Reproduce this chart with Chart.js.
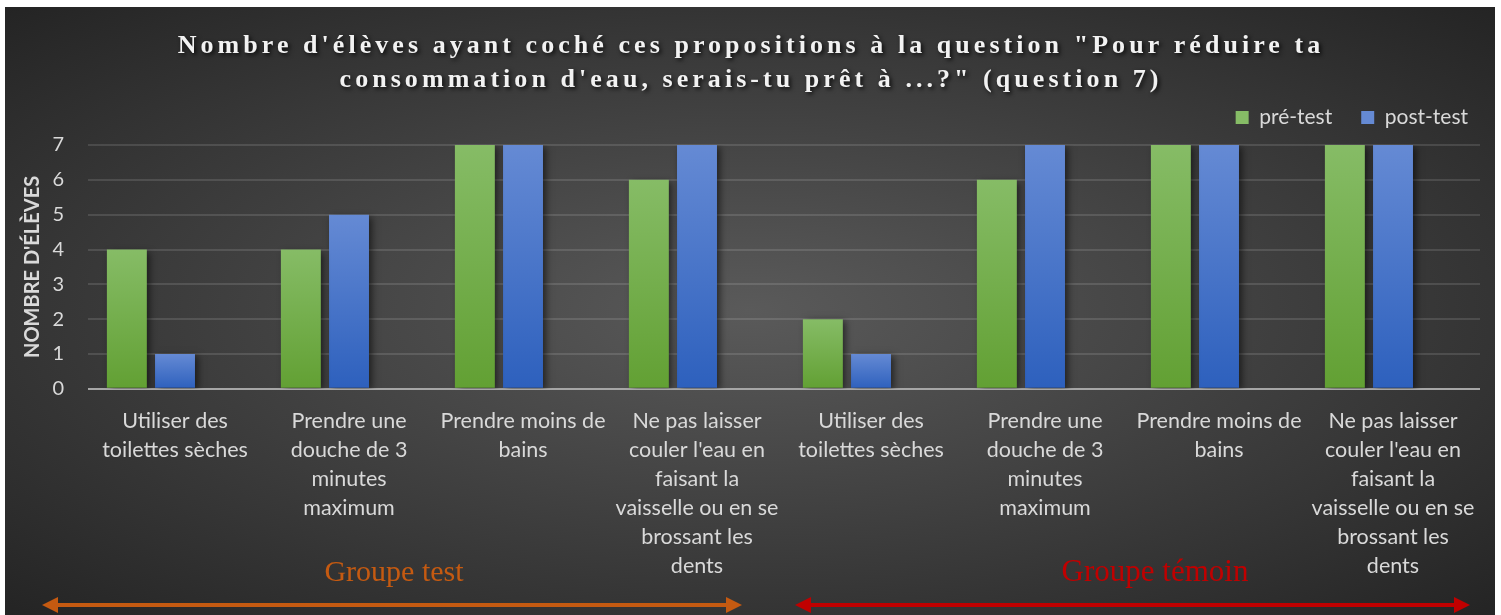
<!DOCTYPE html>
<html>
<head>
<meta charset="utf-8">
<script src="https://cdn.jsdelivr.net/npm/chart.js@4.4.1/dist/chart.umd.min.js"></script>
<style>
  html, body { margin: 0; padding: 0; background: #fff; }
  #wrap {
    position: absolute; left: 5px; top: 7px; width: 1490px; height: 608px;
    background: radial-gradient(ellipse farthest-corner at 50% 50%, #5a5a5a 0%, #242424 100%);
  }
</style>
</head>
<body>
<div id="wrap"><canvas id="chart" width="1490" height="608"></canvas></div>
<script>
const categories = [
    ['Utiliser des', 'toilettes sèches'],
    ['Prendre une', 'douche de 3', 'minutes', 'maximum'],
    ['Prendre moins de', 'bains'],
    ['Ne pas laisser', "couler l'eau en", 'faisant la', 'vaisselle ou en se', 'brossant les', 'dents'],
    ['Utiliser des', 'toilettes sèches'],
    ['Prendre une', 'douche de 3', 'minutes', 'maximum'],
    ['Prendre moins de', 'bains'],
    ['Ne pas laisser', "couler l'eau en", 'faisant la', 'vaisselle ou en se', 'brossant les', 'dents']
];
const preTest = [4, 4, 7, 6, 2, 6, 7, 7];
const postTest = [1, 5, 7, 7, 1, 7, 7, 7];
const emptySeries = [null, null, null, null, null, null, null, null];
const yTicks = [0, 1, 2, 3, 4, 5, 6, 7];
const titleLines = [
    "Nombre d'élèves ayant coché ces propositions à la question \"Pour réduire ta",
    "consommation d'eau, serais-tu prêt à ...?\" (question 7)"
];
const groups = [
    { label: 'Groupe test', color: '#c55a11', from: 37, to: 737, text: 389, size: 30 },
    { label: 'Groupe témoin', color: '#c00000', from: 790, to: 1465, text: 1150, size: 31 }
];

// dégradé vertical par barre
function barGradient(top, bottom) {
    return function (c) {
        const chart = c.chart;
        const y = chart.scales.y;
        if (!chart.chartArea || c.raw == null) return bottom;
        const g = chart.ctx.createLinearGradient(0, y.getPixelForValue(c.raw), 0, y.getPixelForValue(0));
        g.addColorStop(0, top);
        g.addColorStop(1, bottom);
        return g;
    };
}

const shadowPlugin = {
    id: 'barShadow',
    beforeDatasetsDraw(chart) {
        const ctx = chart.ctx;
        ctx.save();
        ctx.shadowColor = 'rgba(0,0,0,0.55)';
        ctx.shadowBlur = 7;
        ctx.shadowOffsetX = 3;
        ctx.shadowOffsetY = 2;
    },
    afterDatasetsDraw(chart) {
        chart.ctx.restore();
    }
};

// un peu d'espace sous la légende, et légende poussée à droite
const legendGap = {
    id: 'legendGap',
    beforeLayout(chart) {
        const lg = chart.legend;
        if (!lg || lg._gapPatched) return;
        const fit = lg.fit;
        lg.fit = function () { fit.call(this); this.height += 7; };
        lg._gapPatched = true;
    },
    afterLayout(chart) {
        const lg = chart.legend;
        if (!lg) return;
        lg.left += 17;
        lg.right += 17;
    }
};

const decorPlugin = {
    id: 'decor',
    afterDraw(chart) {
        const ctx = chart.ctx;
        ctx.save();
        // titre
        ctx.font = 'bold 26px "Liberation Serif"';
        ctx.letterSpacing = '4.05px';
        ctx.textAlign = 'center';
        ctx.textBaseline = 'middle';
        ctx.fillStyle = '#f2f2f2';
        ctx.shadowColor = 'rgba(0,0,0,0.8)';
        ctx.shadowBlur = 4;
        ctx.shadowOffsetX = 2;
        ctx.shadowOffsetY = 2;
        titleLines.forEach((t, i) => ctx.fillText(t, 746, 39 + i * 34));
        ctx.restore();

        // groupes + flèches
        ctx.save();
        ctx.textAlign = 'center';
        ctx.textBaseline = 'middle';
        groups.forEach(gr => {
            ctx.font = gr.size + 'px "Liberation Serif"';
            ctx.fillStyle = gr.color;
            ctx.strokeStyle = gr.color;
            ctx.fillText(gr.label, gr.text, 566);
            const y = 598;
            ctx.lineWidth = 4;
            ctx.beginPath();
            ctx.moveTo(gr.from + 10, y);
            ctx.lineTo(gr.to - 10, y);
            ctx.stroke();
            ctx.beginPath();
            ctx.moveTo(gr.from, y);
            ctx.lineTo(gr.from + 16, y - 8);
            ctx.lineTo(gr.from + 16, y + 8);
            ctx.closePath();
            ctx.fill();
            ctx.beginPath();
            ctx.moveTo(gr.to, y);
            ctx.lineTo(gr.to - 16, y - 8);
            ctx.lineTo(gr.to - 16, y + 8);
            ctx.closePath();
            ctx.fill();
        });
        ctx.restore();
    }
};

new Chart(document.getElementById('chart').getContext('2d'), {
    type: 'bar',
    data: {
        labels: categories,
        datasets: [
            { label: 'pré-test', data: preTest, backgroundColor: barGradient('#86bc66', '#62a033') },
            { label: 'post-test', data: postTest, backgroundColor: barGradient('#658ad4', '#2d60bd') },
            { label: '', data: emptySeries, backgroundColor: 'rgba(0,0,0,0)' }
        ]
    },
    options: {
        responsive: false,
        animation: false,
        categoryPercentage: 0.83,
        barPercentage: 0.83,
        layout: { padding: { top: 71, right: 15, bottom: 24, left: 5 } },
        plugins: {
            title: { display: false },
            tooltip: { enabled: false },
            legend: {
                position: 'top',
                align: 'end',
                labels: {
                    color: '#d9d9d9',
                    font: { family: 'Lato', size: 21 },
                    boxWidth: 13,
                    boxHeight: 13,
                    padding: 29,
                    filter: item => item.text !== ''
                }
            }
        },
        scales: {
            x: {
                grid: { display: false },
                border: { display: false },
                ticks: {
                    color: '#d9d9d9',
                    font: { family: 'Lato', size: 21.5, lineHeight: 1.35 },
                    maxRotation: 0,
                    autoSkip: false,
                    padding: 10
                }
            },
            y: {
                min: 0,
                max: 7,
                afterBuildTicks: axis => { axis.ticks = yTicks.map(v => ({ value: v })); },
                afterFit: axis => { axis.width = 78; },
                border: { display: false },
                grid: {
                    color: c => c.tick.value === 0 ? '#a6a6a6' : 'rgba(255,255,255,0.12)',
                    lineWidth: 2,
                    drawTicks: false
                },
                ticks: {
                    color: '#d9d9d9',
                    font: { family: 'Lato', size: 20 },
                    padding: 24
                },
                title: {
                    display: true,
                    text: "NOMBRE D'ÉLÈVES",
                    color: '#d9d9d9',
                    font: { family: 'Lato', size: 20, weight: 'bold' },
                    padding: 11
                }
            }
        }
    },
    plugins: [shadowPlugin, legendGap, decorPlugin]
});
</script>
</body>
</html>
